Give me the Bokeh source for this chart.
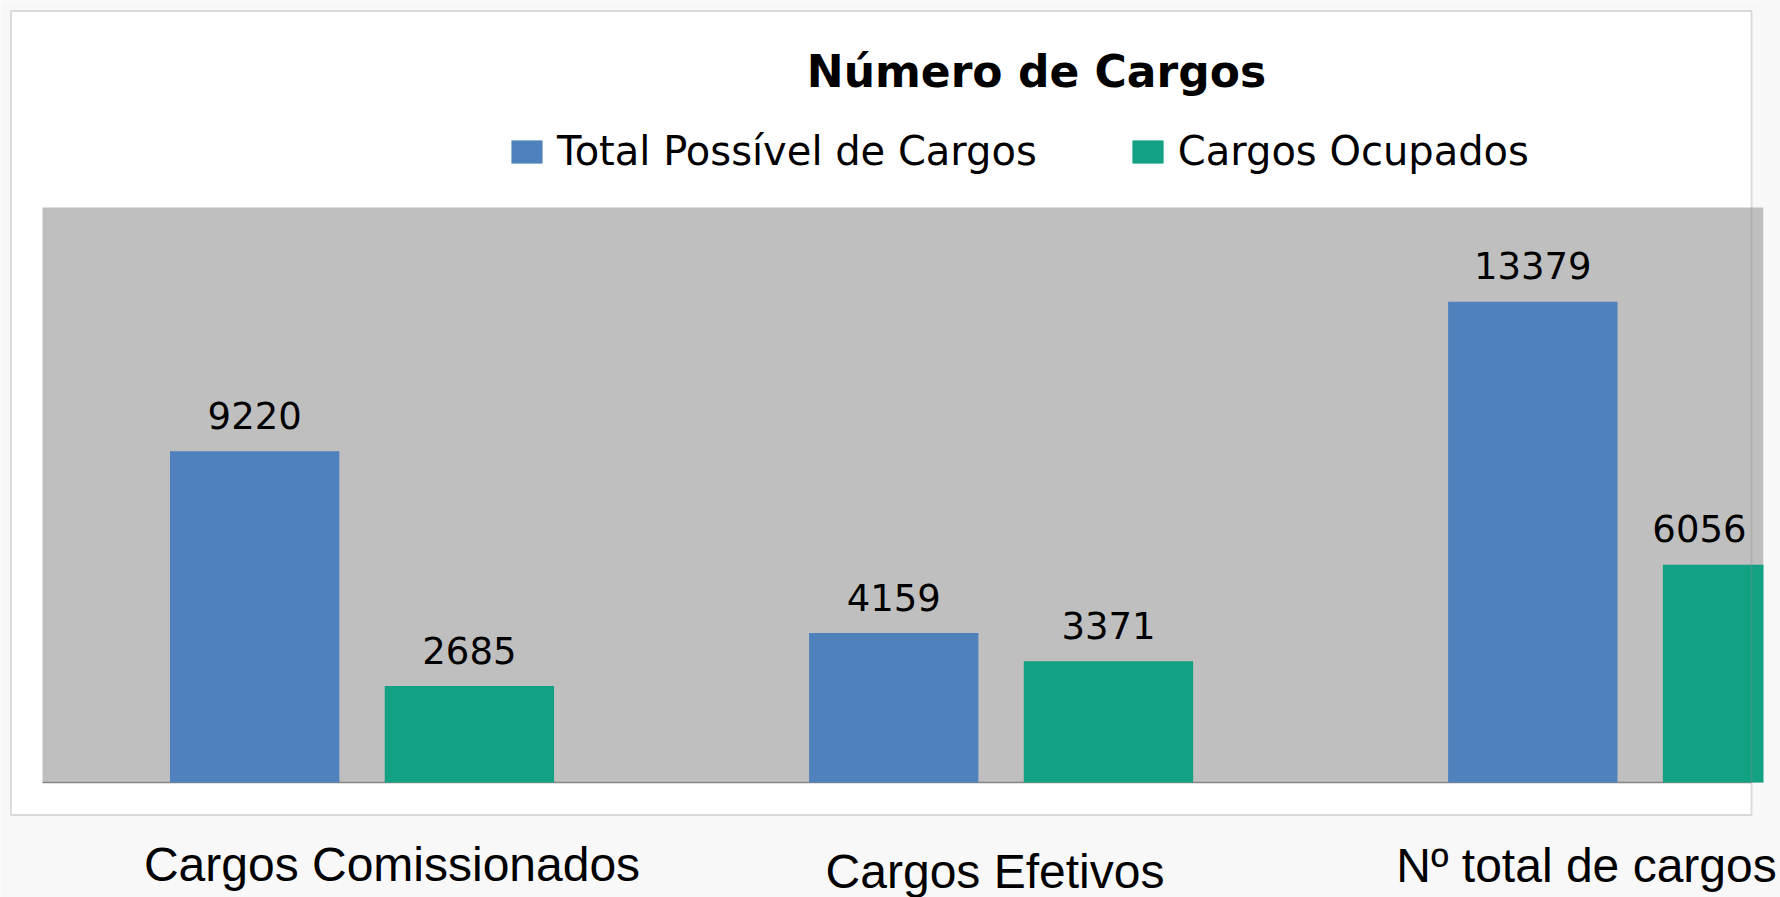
from bokeh.plotting import figure
from bokeh.models import Range1d, ColumnDataSource, Label, BoxAnnotation
from bokeh.transform import dodge
from bokeh.embed import file_html
from bokeh.resources import INLINE
from bokeh.core.properties import value

# ---- data ----
categories = ["Cargos Comissionados", "Cargos Efetivos", "Nº total de cargos"]
total_possivel = [9220, 4159, 13379]
cargos_ocupados = [2685, 3371, 6056]
series_names = ["Total Possível de Cargos", "Cargos Ocupados"]
chart_title = "Número de Cargos"
y_max = 16000

# ---- styles / layout (pixels) ----
BLUE = "#4F81BD"
GREEN = "#12A182"
PLOT_GRAY = "#BFBFBF"
PAGE_BG = "#f8f8f8"
FRAME_LINE = "#8a8a8a"
AXIS_LINE = "#868686"

W, H = 1780, 897
AREA_L, AREA_R, AREA_T, AREA_B = 42, 1763, 207, 782          # gray plot area
FRAME_L, FRAME_T, FRAME_R, FRAME_B = 10.5, 10.5, 1751, 814.5  # white slide frame
X_SPAN = 2.693                                               # visible category units
BASE_FIX = 0.33                                              # svg baseline correction (em)

PXX = (AREA_R - AREA_L) / X_SPAN
PXY = (AREA_B - AREA_T) / y_max


def dx(px):
    return (px - AREA_L) / PXX


def dy(py):
    return (AREA_B - py) / PXY


OFF = 0.168
BW = 0.265
LBL_SIZE = 37
pos = [i + 0.5 for i in range(len(categories))]

# keep value labels inside the plot area (as the original chart does)
half_w = 0.636 * LBL_SIZE * 4 / 2


def label_shift(xs):
    out = []
    for x in xs:
        cx = AREA_L + x * PXX
        lim = AREA_R - 17 - half_w
        out.append(min(0, lim - cx))
    return out


src = ColumnDataSource(dict(
    pos=pos,
    cat=categories,
    total=total_possivel,
    ocup=cargos_ocupados,
    total_s=[str(v) for v in total_possivel],
    ocup_s=[str(v) for v in cargos_ocupados],
    total_dx=label_shift([x - OFF for x in pos]),
    ocup_dx=label_shift([x + OFF for x in pos]),
))

p = figure(width=W, height=H, x_range=Range1d(dx(0), dx(W)), y_range=Range1d(dy(H), dy(0)),
           output_backend="svg", toolbar_location=None,
           x_axis_location=None, y_axis_location=None, min_border=0)
p.background_fill_color = PAGE_BG
p.border_fill_color = PAGE_BG
p.outline_line_color = None
p.xgrid.visible = False
p.ygrid.visible = False

# white slide frame
p.add_layout(BoxAnnotation(left=dx(FRAME_L), right=dx(FRAME_R), top=dy(FRAME_T), bottom=dy(FRAME_B),
                           fill_color="white", fill_alpha=1, line_color=None, level="underlay"))
# gray plot area
p.add_layout(BoxAnnotation(left=0, right=X_SPAN, bottom=0, top=y_max,
                           fill_color=PLOT_GRAY, fill_alpha=1, line_color=None, level="underlay"))
# axis line
p.segment(x0=[0], x1=[dx(FRAME_R)], y0=[0], y1=[0], line_color=AXIS_LINE, line_width=1.5)

p.vbar(x=dodge("pos", -OFF, range=p.x_range), top="total", width=BW, source=src,
       fill_color=BLUE, line_color=None, legend_label=series_names[0])
p.vbar(x=dodge("pos", OFF, range=p.x_range), top="ocup", width=BW, source=src,
       fill_color=GREEN, line_color=None, legend_label=series_names[1])

# the chart area is cut at its right edge: mask anything beyond it
p.add_layout(BoxAnnotation(left=X_SPAN, right=dx(W), bottom=dy(H), top=dy(0),
                           fill_color=PAGE_BG, fill_alpha=1, line_color=None, level="annotation"))

# frame border on top
p.add_layout(BoxAnnotation(left=dx(FRAME_L), right=dx(FRAME_R), top=dy(FRAME_T), bottom=dy(FRAME_B),
                           fill_alpha=0, line_color=FRAME_LINE, line_width=1.8, level="overlay"))

for col, off in (("total", -OFF), ("ocup", OFF)):
    p.text(x=dodge("pos", off, range=p.x_range), y=col, text=col + "_s", x_offset=col + "_dx",
           source=src, text_align="center", text_baseline="alphabetic",
           y_offset=-36, text_font=value("DejaVu Sans"), text_font_size=f"{LBL_SIZE}px",
           text_color="black")

leg = p.legend[0]
leg.orientation = "horizontal"
leg.location = (507, H - 174)
leg.glyph_width = 39
leg.glyph_height = 29
leg.label_standoff = 11
leg.spacing = 91
leg.padding = 0
leg.margin = 0
leg.background_fill_alpha = 0
leg.border_line_alpha = 0
leg.label_text_font = "DejaVu Sans"
leg.label_text_font_size = "40px"
leg.label_text_color = "black"

TITLE_SIZE = 44
p.add_layout(Label(x=dx(1036), y=dy(86 - BASE_FIX * TITLE_SIZE), text=chart_title,
                   text_align="center", text_baseline="alphabetic",
                   text_font="DejaVu Sans", text_font_style="bold",
                   text_font_size=f"{TITLE_SIZE}px", text_color="black"))

CAT_SIZE = 48
label_px = [391.5, 994.5, 1586]
label_py = [880, 887, 881]
for name, lx, ly in zip(categories, label_px, label_py):
    p.add_layout(Label(x=dx(lx), y=dy(ly - BASE_FIX * CAT_SIZE), text=name,
                       text_align="center", text_baseline="alphabetic",
                       text_font="Liberation Sans", text_font_size=f"{CAT_SIZE}px",
                       text_color="black"))

open("out.html", "w").write(file_html(p, INLINE))
